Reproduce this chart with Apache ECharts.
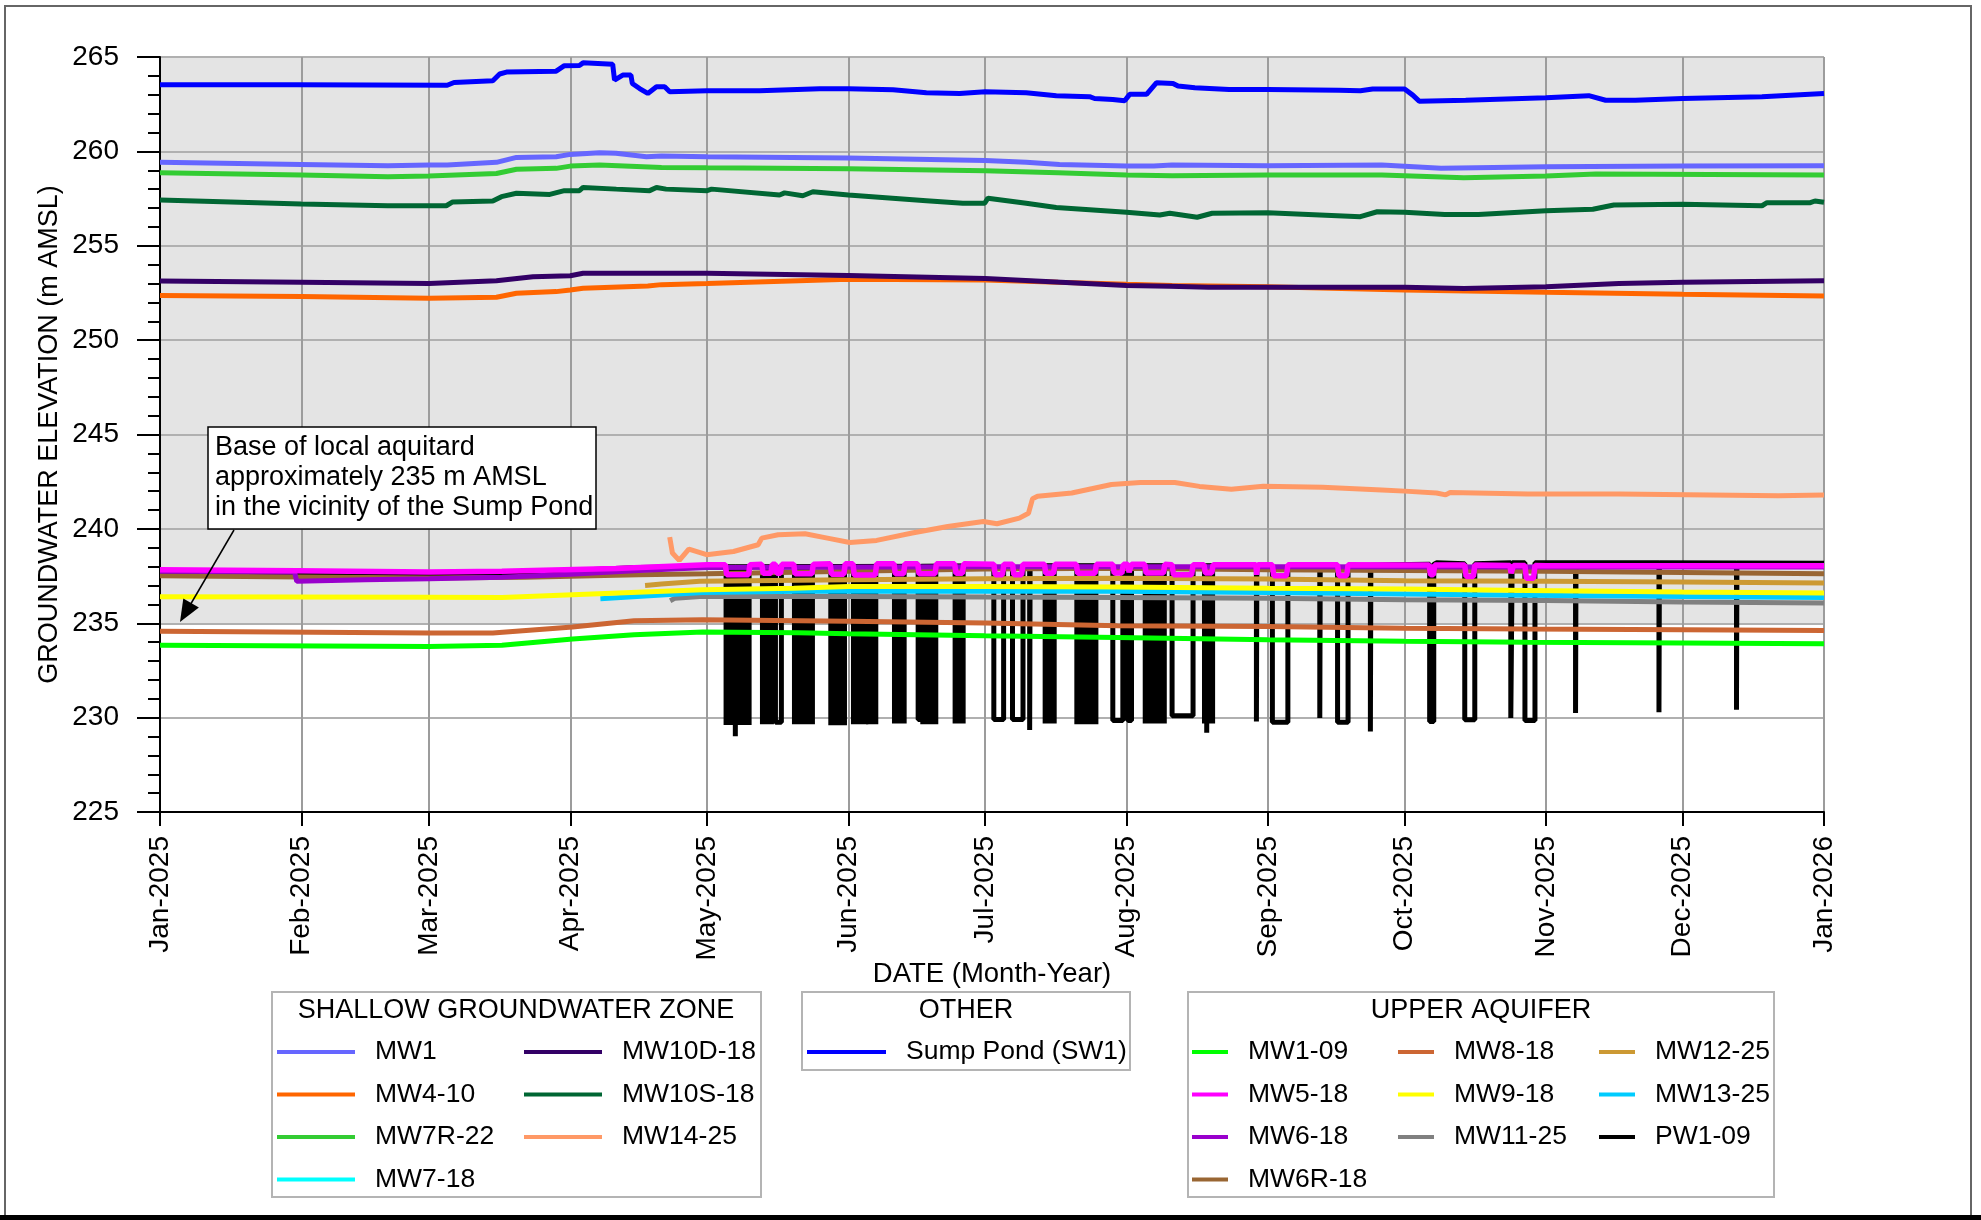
<!DOCTYPE html>
<html><head><meta charset="utf-8">
<script src="https://cdn.jsdelivr.net/npm/echarts@6/dist/echarts.min.js"></script>
<style>html,body{margin:0;padding:0;background:#fff}#c{width:1981px;height:1220px}</style>
</head><body><div id="c"></div>
<script>
// ---- axis ticks / labels ----
const monthTicks = ['2025-01-01','2025-02-01','2025-03-01','2025-04-01','2025-05-01','2025-06-01','2025-07-01','2025-08-01','2025-09-01','2025-10-01','2025-11-01','2025-12-01','2026-01-01'];
const monthLabels = ['Jan-2025','Feb-2025','Mar-2025','Apr-2025','May-2025','Jun-2025','Jul-2025','Aug-2025','Sep-2025','Oct-2025','Nov-2025','Dec-2025','Jan-2026'];

// ---- series values: [day since 2025-01-01, elevation m AMSL] ----
const sw1 = [[0,263.53],[30,263.53],[63,263.5],[64.5,263.65],[73,263.74],[74.5,264.1],[76,264.2],[86.9,264.25],[88.7,264.54],[92,264.55],[92.8,264.69],[99.3,264.62],[99.7,263.78],[101.5,264.04],[103.3,264.04],[103.6,263.6],[105.2,263.33],[107,263.07],[108.9,263.42],[110.7,263.42],[111.8,263.16],[120,263.21],[131.5,263.21],[144.7,263.32],[151,263.32],[160.8,263.26],[168.1,263.1],[175.4,263.07],[181,263.16],[190,263.1],[196.6,262.95],[203.9,262.9],[205,262.8],[209,262.75],[211.6,262.68],[212.7,263.02],[216.4,263.02],[218.6,263.64],[222.2,263.6],[223.3,263.46],[227,263.37],[234.5,263.28],[243,263.28],[258.6,263.24],[263.3,263.21],[266,263.3],[273,263.3],[274.8,262.98],[276.2,262.66],[286.4,262.71],[304,262.84],[313.4,262.95],[317.1,262.71],[323.6,262.71],[334,262.8],[351.4,262.89],[365,263.07]];
const mw1 = [[0,259.42],[31,259.31],[50,259.24],[59,259.28],[63,259.28],[73.8,259.42],[78.2,259.68],[86.9,259.72],[90,259.84],[96.4,259.93],[100,259.9],[106.7,259.72],[110,259.75],[120,259.72],[151,259.65],[181,259.52],[190,259.42],[197.3,259.31],[212,259.22],[218,259.22],[222,259.28],[243,259.24],[268,259.28],[281,259.1],[304,259.19],[334,259.22],[365,259.24]];
const mw7r22 = [[0,258.87],[31,258.75],[50,258.66],[59,258.69],[73.8,258.83],[78.2,259.05],[86.9,259.1],[90,259.22],[96.4,259.28],[110,259.15],[120,259.13],[151,259.08],[181,258.97],[197,258.87],[212,258.75],[222,258.71],[243,258.75],[268,258.75],[286,258.6],[304,258.69],[315,258.8],[365,258.75]];
const mw10s18 = [[0,257.42],[31,257.21],[50,257.12],[62.8,257.12],[64.2,257.32],[73,257.37],[74.9,257.6],[78.2,257.78],[85.5,257.72],[88.7,257.92],[92,257.92],[92.8,258.09],[100.1,258.0],[107.4,257.92],[108.9,258.09],[111,258.0],[120,257.92],[121,258.0],[135.9,257.69],[137,257.8],[141,257.65],[143.2,257.86],[151,257.69],[168.1,257.39],[176.1,257.25],[180.9,257.25],[181.6,257.52],[190,257.25],[196.6,257.03],[212,256.77],[219.3,256.63],[221.5,256.72],[227.5,256.51],[230.8,256.72],[243,256.75],[263.3,256.54],[267,256.8],[273,256.77],[281.8,256.66],[289.2,256.66],[304,256.86],[314.3,256.93],[318.9,257.16],[334,257.2],[351.4,257.12],[352.5,257.28],[362,257.28],[363,257.37],[365,257.3]];
const mw10d18 = [[0,253.13],[31,253.06],[59,253.0],[73.8,253.15],[81.8,253.36],[90,253.41],[92.8,253.54],[120,253.54],[151,253.43],[181,253.27],[212,252.9],[221.5,252.85],[230,252.8],[273,252.8],[286,252.74],[304,252.83],[320,253.0],[334,253.06],[365,253.15]];
const mw410 = [[0,252.36],[31,252.31],[59,252.22],[73.8,252.27],[78.2,252.48],[86.9,252.57],[90,252.66],[92.8,252.75],[107,252.87],[110,252.94],[120,253.0],[151,253.22],[181,253.18],[197,253.06],[212,252.96],[222,252.9],[243,252.83],[273,252.66],[304,252.54],[334,252.43],[365,252.34]];
const mw1425 = [[111.8,239.56],[112.4,238.72],[113.9,238.33],[116,238.93],[119.9,238.63],[125.8,238.8],[131.2,239.16],[132,239.51],[135.6,239.69],[141.5,239.74],[146.4,239.51],[151.3,239.28],[157.2,239.39],[165,239.78],[172.8,240.13],[180.6,240.39],[183.6,240.27],[188.5,240.57],[190.5,240.83],[191.4,241.6],[192.5,241.73],[200,241.9],[208.7,242.35],[215,242.46],[222.6,242.46],[228,242.25],[235,242.1],[242,242.26],[255,242.2],[268,242.06],[273,242.0],[280,241.9],[282,241.8],[283,241.93],[300,241.85],[320,241.85],[340,241.8],[355,241.75],[365,241.8]];
const mw718 = [];
const mw109 = [[0,233.83],[59,233.77],[75,233.83],[90.5,234.16],[104,234.39],[119,234.53],[140,234.5],[151,234.44],[181,234.34],[210,234.25],[243,234.13],[273,234.04],[300,233.99],[334,233.95],[365,233.92]];
const mw818 = [[0,234.57],[59,234.48],[73,234.48],[90.5,234.8],[104,235.13],[119,235.19],[151,235.1],[181,235.01],[210,234.87],[243,234.83],[273,234.74],[300,234.69],[334,234.66],[365,234.62]];
const mw918 = [[0,236.4],[59,236.38],[75,236.37],[90.5,236.51],[119,236.77],[139,236.86],[151,236.95],[181,236.95],[210,236.92],[243,236.86],[273,236.81],[300,236.74],[334,236.65],[365,236.6]];
const mw1325 = [[96.6,236.3],[119,236.63],[140,236.69],[151,236.7],[181,236.7],[210,236.69],[243,236.63],[273,236.55],[300,236.48],[334,236.42],[365,236.37]];
const mw1125 = [[111.9,236.19],[113,236.33],[118.4,236.42],[151,236.42],[181,236.39],[210,236.37],[243,236.33],[273,236.25],[304,236.21],[334,236.12],[365,236.07]];
const mw1225 = [[106.4,237.0],[110,237.08],[118.4,237.22],[151,237.3],[181,237.36],[210,237.39],[243,237.34],[273,237.25],[304,237.22],[334,237.18],[365,237.13]];
const mw6r18 = [[0,237.51],[31,237.45],[59,237.4],[80,237.44],[105,237.57],[120,237.62],[130,237.66],[151,237.75],[181,237.87],[210,237.92],[243,237.83],[273,237.8],[304,237.75],[334,237.69],[365,237.62]];
const mw618 = [[0,237.75],[29.5,237.72],[30,237.22],[45,237.3],[59,237.36],[75,237.44],[90,237.6],[105,237.8],[120,237.95],[180,238.0],[243,238.0],[300,237.98],[365,237.98]];
const mw518 = [[0,237.83],[30,237.78],[59,237.71],[75,237.76],[100,237.9],[120,238.1],[150,238.15],[210,238.12],[243,238.1],[273,238.08],[304,238.05],[365,238.05]];
// MW5-18 dips: [start day, end day, level before, low]
const mw518Dips = [[124.0,129.4,238.1,237.57],[132.0,134.3,238.12,237.65],[135.0,136.4,238.12,237.65],[139.0,143.3,238.13,237.62],[147.0,150.3,238.15,237.6],[152.0,157.2,238.15,237.55],[161.0,163.4,238.15,237.62],[166.2,170.3,238.15,237.62],[174.3,176.3,238.15,237.65],[182.9,185.1,238.13,237.57],[187.0,189.3,238.13,237.57],[194.0,196.3,238.13,237.65],[201.0,205.4,238.12,237.65],[209.0,211.3,238.12,237.66],[212.3,213.1,238.12,237.7],[216.0,220.4,238.12,237.66],[222.0,226.6,238.1,237.57],[229.0,231.0,238.1,237.66],[240.4,240.8,238.1,237.57],[244.0,247.4,238.1,237.52],[258.3,260.6,238.1,237.52],[278.4,279.6,238.08,237.57],[286.2,288.4,238.08,237.48],[296.1,296.9,238.06,237.66],[299.4,301.6,238.06,237.39]];
// PW1-09 static level
const pw109 = [[0,237.67],[30,237.62],[59,237.6],[75,237.62],[90,237.8],[105,237.95],[120,238.0],[180,238.05],[239,238.05],[270,238.1],[280,238.2],[365,238.18]];
// PW1-09 single drawdowns: [start, end, level before, low]
const pw109Drops = [[126.2,126.3,238.0,229.01],[135.0,136.3,238.0,229.75],[166.3,167.0,238.02,229.9],[182.9,185.05,238.05,229.9],[187.0,189.3,238.05,229.9],[190.76,190.86,238.05,229.35],[209.0,211.2,238.05,229.85],[212.3,213.1,238.05,229.85],[222.0,226.6,238.05,230.1],[229.6,229.7,238.05,229.2],[240.5,240.6,238.05,229.8],[244.0,247.4,238.05,229.75],[254.4,254.5,238.06,229.98],[258.3,260.6,238.06,229.75],[265.5,265.6,238.07,229.27],[278.5,279.4,238.12,229.8],[286.2,288.4,238.15,229.89],[296.3,296.6,238.2,229.98],[299.4,301.6,238.2,229.85],[310.5,310.6,238.2,230.24],[328.8,328.9,238.2,230.28],[345.8,345.9,238.19,230.42]];
// PW1-09 dense pumping cycles: [start, end, high, low]
const pw109Cycles = [[124.06,129.33,238.0,229.72],[132.04,134.23,238.0,229.75],[139.06,143.22,238.02,229.75],[147.03,150.25,238.02,229.7],[152.0,154.93,238.02,229.75],[155.29,157.12,238.02,229.75],[161.0,163.34,238.03,229.8],[167.21,170.28,238.03,229.75],[174.3,176.28,238.03,229.8],[194.05,196.25,238.05,229.8],[201.0,205.4,238.05,229.75],[216.0,220.4,238.05,229.8],[229.0,231.0,238.05,229.8]];

// ---- helpers ----
const DAY = 864e5;
const T0 = Date.parse('2025-01-01T00:00:00Z');
const ts = d => T0 + d * DAY;
const tickTimes = monthTicks.map(s => Date.parse(s + 'T00:00:00Z'));
const toXY = arr => arr.map(p => [ts(p[0]), p[1]]);
function withDips(trace, dips, slope) {
  const out = trace.filter(p => !dips.some(d => p[0] > d[0] && p[0] < d[1])).map(p => [p[0], p[1]]);
  dips.forEach(([s, e, top, low]) => {
    const k = Math.min(slope, (e - s) / 3);
    out.push([s, top], [s + k, low], [e - k, low], [e, top]);
  });
  out.sort((a, b) => a[0] - b[0]);
  return out;
}

const FONT = "'Liberation Sans', Arial, sans-serif";
const LW = 5;
const line = (name, data, color, width) => ({
  name, type: 'line', data: toXY(data), showSymbol: false, symbol: 'none',
  lineStyle: { color: color, width: width || LW, type: 'solid', opacity: 1 },
  itemStyle: { color: color }, z: 2, animation: false
});

const series = [
  line('PW1-09', withDips(pw109, pw109Drops, 0), '#000000', LW),
  {
    name: 'PW1-09', type: 'custom', z: 2, animation: false,
    data: pw109Cycles.map(b => [ts(b[0]), ts(b[1]), b[2], b[3]]),
    encode: { x: [0, 1], y: [2, 3] },
    itemStyle: { color: '#000' },
    renderItem: (params, api) => {
      const a = api.coord([api.value(0), api.value(2)]);
      const b = api.coord([api.value(1), api.value(3)]);
      return { type: 'rect', shape: { x: a[0], y: a[1], width: b[0] - a[0], height: b[1] - a[1] },
        style: { fill: '#000', stroke: '#000', lineWidth: 4 } };
    }
  },
  line('MW7-18', mw718, '#00ffff'),
  line('MW1-09', mw109, '#00ff00'),
  line('MW8-18', mw818, '#cc6633'),
  line('MW11-25', mw1125, '#808080'),
  line('MW13-25', mw1325, '#00ccff'),
  line('MW9-18', mw918, '#ffff00'),
  line('MW12-25', mw1225, '#cc9933'),
  line('MW6R-18', mw6r18, '#996633'),
  line('MW6-18', mw618, '#9900cc'),
  line('MW5-18', withDips(mw518, mw518Dips, 0.3), '#ff00ff', LW + 0.5),
  line('MW14-25', mw1425, '#ff9966'),
  line('MW4-10', mw410, '#ff6600'),
  line('MW10D-18', mw10d18, '#330066'),
  line('MW10S-18', mw10s18, '#006633'),
  line('MW7R-22', mw7r22, '#33cc33'),
  line('MW1', mw1, '#6666ff'),
  line('Sump Pond (SW1)', sw1, '#0000ff')
];
// grey band above the base of the local aquitard
series[series.length - 1].markArea = {
  silent: true, z: -1, itemStyle: { color: '#e4e4e4' },
  data: [[{ xAxis: tickTimes[0], yAxis: 235 }, { xAxis: tickTimes[12], yAxis: 265 }]]
};

const legendBase = {
  orient: 'vertical', padding: 0, itemGap: 14.5, itemHeight: 4, icon: 'rect',
  selectedMode: false,
  textStyle: { fontSize: 26.5, fontFamily: FONT, color: '#000', lineHeight: 28, padding: [0, 0, 0, 15] }
};
const legends = [
  { left: 277, top: 1038, itemWidth: 78, data: ['MW1', 'MW4-10', 'MW7R-22', 'MW7-18'] },
  { left: 524, top: 1038, itemWidth: 78, data: ['MW10D-18', 'MW10S-18', 'MW14-25'] },
  { left: 807, top: 1038, itemWidth: 79, data: ['Sump Pond (SW1)'] },
  { left: 1192, top: 1038, itemWidth: 36, data: ['MW1-09', 'MW5-18', 'MW6-18', 'MW6R-18'] },
  { left: 1398, top: 1038, itemWidth: 36, data: ['MW8-18', 'MW9-18', 'MW11-25'] },
  { left: 1599, top: 1038, itemWidth: 36, data: ['MW12-25', 'MW13-25', 'PW1-09'] }
].map(l => Object.assign({}, legendBase, l));

const boxStyle = { fill: '#fff', stroke: '#b4b4b4', lineWidth: 2 };
const titleStyle = (x, y, text) => ({ type: 'text', x, y, style: { text, fontSize: 27, fontFamily: FONT, fill: '#000', align: 'center', verticalAlign: 'middle' } });

const chart = echarts.init(document.getElementById('c'), null, { renderer: 'canvas' });
chart.setOption({
  backgroundColor: '#fff',
  animation: false,
  grid: { left: 160, top: 57, right: 157, bottom: 408, containLabel: false },
  xAxis: {
    type: 'value', min: tickTimes[0], max: tickTimes[12],
    name: 'DATE (Month-Year)', nameLocation: 'middle', nameGap: 148, nameMoveOverlap: false,
    nameTextStyle: { fontSize: 27.5, fontFamily: FONT, color: '#000' },
    axisLine: { show: true, onZero: false, lineStyle: { color: '#000', width: 2 } },
    axisTick: { show: true, length: 14, customValues: tickTimes, lineStyle: { color: '#000', width: 2 } },
    axisLabel: {
      customValues: tickTimes, rotate: 90, margin: 24, fontSize: 28, fontFamily: FONT, color: '#000',
      formatter: v => { const i = tickTimes.indexOf(+v); return i >= 0 ? monthLabels[i] : ''; }
    },
    splitLine: { show: true, lineStyle: { color: '#9c9c9c', width: 2 } }
  },
  yAxis: {
    type: 'value', min: 225, max: 265, interval: 5,
    name: 'GROUNDWATER ELEVATION (m AMSL)', nameLocation: 'middle', nameGap: 97, nameMoveOverlap: false,
    nameTextStyle: { fontSize: 27, fontFamily: FONT, color: '#000' },
    axisLine: { show: true, lineStyle: { color: '#000', width: 2 } },
    axisTick: { show: true, length: 23, lineStyle: { color: '#000', width: 2 } },
    minorTick: { show: true, splitNumber: 5, length: 12, lineStyle: { color: '#000', width: 2 } },
    axisLabel: { margin: 41, fontSize: 28, fontFamily: FONT, color: '#000' },
    splitLine: { show: true, lineStyle: { color: '#b0b0b0', width: 2 } }
  },
  legend: legends,
  series,
  graphic: [
    { type: 'rect', z: -10, shape: { x: 5, y: 6, width: 1966, height: 1210 }, style: { fill: 'none', stroke: '#666', lineWidth: 2 } },
    { type: 'rect', z: -10, shape: { x: 0, y: 1215, width: 1981, height: 5 }, style: { fill: '#000' } },
    { type: 'rect', z: 0, shape: { x: 272, y: 992, width: 489, height: 205 }, style: boxStyle },
    { type: 'rect', z: 0, shape: { x: 802, y: 992, width: 328, height: 78 }, style: boxStyle },
    { type: 'rect', z: 0, shape: { x: 1188, y: 992, width: 586, height: 205 }, style: boxStyle },
    titleStyle(516, 1011, 'SHALLOW GROUNDWATER ZONE'),
    titleStyle(966, 1011, 'OTHER'),
    titleStyle(1481, 1011, 'UPPER AQUIFER'),
    { type: 'rect', z: 100, shape: { x: 208, y: 427, width: 388, height: 102 }, style: { fill: '#fff', stroke: '#000', lineWidth: 1.5 } },
    { type: 'text', z: 101, x: 215, y: 433, style: { text: 'Base of local aquitard\napproximately 235 m AMSL\nin the vicinity of the Sump Pond', fontSize: 27, lineHeight: 30, fontFamily: FONT, fill: '#000', align: 'left', verticalAlign: 'top' } },
    { type: 'line', z: 100, shape: { x1: 234, y1: 530, x2: 189, y2: 607 }, style: { stroke: '#000', lineWidth: 1.5 } },
    { type: 'polygon', z: 100, shape: { points: [[180, 622], [198.9, 607.6], [183.3, 598.4]] }, style: { fill: '#000' } }
  ]
});
</script></body></html>
